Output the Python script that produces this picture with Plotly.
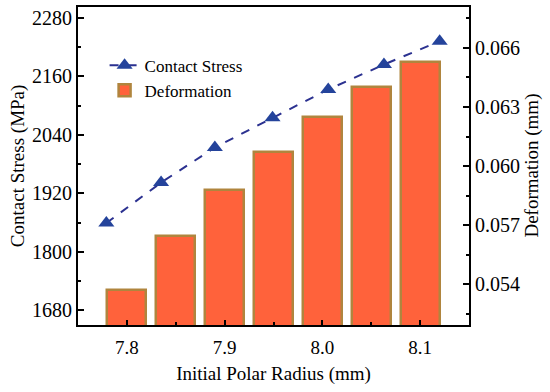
import plotly.graph_objects as go

# Data
radius_bar = [7.80, 7.85, 7.90, 7.95, 8.00, 8.05, 8.10]
deformation = [0.05371, 0.05646, 0.05879, 0.06073, 0.06251, 0.06403, 0.06530]
radius_line = [7.779, 7.835, 7.890, 7.949, 8.006, 8.063, 8.120]
contact_stress = [1859, 1942, 2014, 2075, 2133, 2184, 2232]

left_ticks = [1680, 1800, 1920, 2040, 2160, 2280]
right_ticks = [0.054, 0.057, 0.060, 0.063, 0.066]
x_ticks = [7.8, 7.9, 8.0, 8.1]

FONT = "Liberation Serif"

fig = go.Figure()
fig.add_trace(go.Scatter(
    x=radius_line, y=contact_stress, name="Contact Stress",
    mode="lines+markers",
    line=dict(color="#2b3190", width=2, dash="dash"),
    marker=dict(symbol="triangle-up", size=14, color="#24439b"),
    yaxis="y",
))
fig.add_trace(go.Bar(
    x=radius_bar, y=deformation, name="Deformation",
    width=0.04,
    marker=dict(color="#ff623b", line=dict(color="#b0853e", width=2.5)),
    yaxis="y2",
))

fig.update_layout(
    width=550, height=392,
    margin=dict(l=78, r=81, t=7, b=67, autoexpand=False),
    plot_bgcolor="white", paper_bgcolor="white",
    font=dict(family=FONT, size=20, color="black"),
    showlegend=True,
    legend=dict(x=0.068, y=0.872, xanchor="left", yanchor="top",
                bgcolor="rgba(0,0,0,0)", font=dict(size=17, family=FONT),
                tracegroupgap=2, itemwidth=30),
    bargap=0,
    xaxis=dict(
        range=[7.75, 8.15], tickvals=x_ticks, ticktext=["7.8", "7.9", "8.0", "8.1"],
        showline=True, linecolor="black", linewidth=2, mirror=True,
        ticks="inside", ticklen=5, tickwidth=1.5, tickcolor="black",
        minor=dict(tickvals=[7.85, 7.95, 8.05], ticks="inside", ticklen=3, tickwidth=1.5, tickcolor="black"),
        showgrid=False, zeroline=False,
        title=dict(text="Initial Polar Radius (mm)", font=dict(size=19, family=FONT), standoff=10),
        tickfont=dict(size=19, family=FONT),
        ticklabelstandoff=4,
    ),
    yaxis=dict(
        range=[1650, 2302], tickvals=left_ticks,
        showline=True, linecolor="black", linewidth=2,
        ticks="inside", ticklen=6, tickwidth=1.5, tickcolor="black",
        minor=dict(tickvals=[1740, 1860, 1980, 2100, 2220], ticks="inside", ticklen=3, tickwidth=1.5, tickcolor="black"),
        showgrid=False, zeroline=False,
        tickfont=dict(size=20, family=FONT),
    ),
    yaxis2=dict(
        range=[0.051931, 0.068075], tickvals=right_ticks,
        tickformat=".3f",
        overlaying="y", side="right",
        showline=True, linecolor="black", linewidth=2,
        ticks="inside", ticklen=6, tickwidth=1.5, tickcolor="black",
        minor=dict(tickvals=[0.0525, 0.0555, 0.0585, 0.0615, 0.0645, 0.0675], ticks="inside", ticklen=3, tickwidth=1.5, tickcolor="black"),
        showgrid=False, zeroline=False,
        tickfont=dict(size=20, family=FONT),
    ),
    annotations=[
        dict(text="Contact Stress (MPa)", textangle=-90, xref="paper", yref="paper",
             x=-0.153, y=0.5, xanchor="center", yanchor="middle", showarrow=False,
             font=dict(size=19, family=FONT)),
        dict(text="Deformation (mm)", textangle=-90, xref="paper", yref="paper",
             x=1.16, y=0.5, xanchor="center", yanchor="middle", showarrow=False,
             font=dict(size=19, family=FONT)),
    ],
)

fig.write_html("out.html", config={"displayModeBar": False},
               post_script="document.body.style.margin='0';")
